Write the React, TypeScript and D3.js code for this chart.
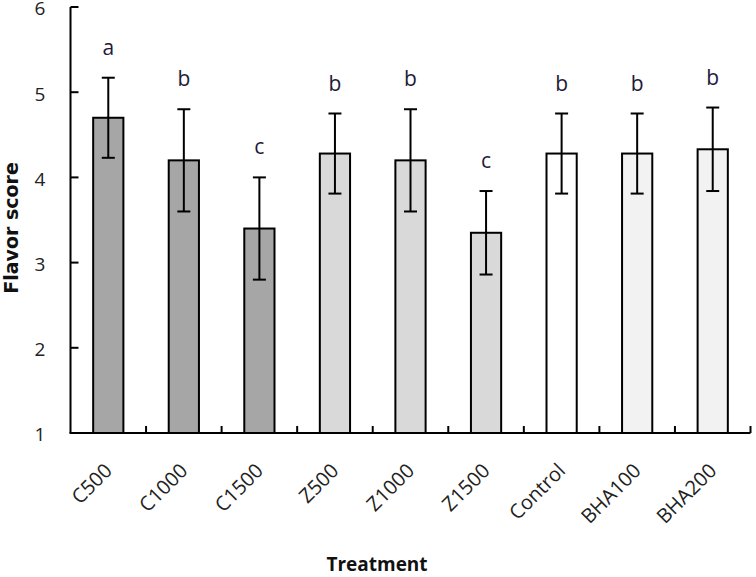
import React from "react";
import * as d3 from "d3";

const categories = ["C500", "C1000", "C1500", "Z500", "Z1000", "Z1500", "Control", "BHA100", "BHA200"];
const means = [4.7, 4.2, 3.4, 4.28, 4.2, 3.35, 4.28, 4.28, 4.33];
const errors = [0.47, 0.6, 0.6, 0.47, 0.6, 0.49, 0.47, 0.47, 0.49];
const letters = ["a", "b", "c", "b", "b", "c", "b", "b", "b"];
const groups = ["C", "C", "C", "Z", "Z", "Z", "Control", "BHA", "BHA"];
const yTicks = [1, 2, 3, 4, 5, 6];

const groupColor: Record<string, string> = {
  C: "#a6a6a6",
  Z: "#d9d9d9",
  Control: "#ffffff",
  BHA: "#f2f2f2",
};

export default function App() {
  const W = 756;
  const H = 577;
  const x0 = 70.5;
  const x1 = 750.5;
  const yBottom = 433;
  const yTop = 7;

  const x = d3.scaleBand<string>().domain(categories).range([x0, x1]).paddingInner(0.6).paddingOuter(0.3);
  const y = d3.scaleLinear().domain([1, 6]).range([yBottom, yTop]);
  const step = x.step();
  const bw = x.bandwidth();
  const capHalf = 6.5;

  const sepTicks = d3.range(1, categories.length + 1).map((k) => x0 + k * step);

  return (
    <svg width={W} height={H} style={{ position: "absolute", left: 0, top: 0, background: "#fff" }}>
      {/* bars */}
      {categories.map((c, i) => (
        <rect
          key={c}
          x={x(c)!}
          y={y(means[i])}
          width={bw}
          height={yBottom - y(means[i])}
          fill={groupColor[groups[i]]}
          stroke="#000"
          strokeWidth={2}
        />
      ))}
      {/* error bars */}
      {categories.map((c, i) => {
        const cx = x(c)! + bw / 2;
        const top = y(means[i] + errors[i]);
        const bot = y(means[i] - errors[i]);
        return (
          <g key={c + "e"} stroke="#000" strokeWidth={2}>
            <line x1={cx} x2={cx} y1={top} y2={bot} />
            <line x1={cx - capHalf} x2={cx + capHalf} y1={top} y2={top} />
            <line x1={cx - capHalf} x2={cx + capHalf} y1={bot} y2={bot} />
          </g>
        );
      })}
      {/* significance letters */}
      {categories.map((c, i) => (
        <text
          key={c + "l"}
          x={x(c)! + bw / 2}
          y={y(means[i] + errors[i]) - 23}
          textAnchor="middle"
          fontFamily="'Open Sans', sans-serif"
          fontSize={21}
          fill="#1e1a3a"
        >
          {letters[i]}
        </text>
      ))}
      {/* y axis */}
      <line x1={x0} x2={x0} y1={yTop} y2={yBottom} stroke="#000" strokeWidth={2} />
      {yTicks.map((t) => (
        <g key={"yt" + t}>
          <line x1={x0} x2={x0 + 8} y1={y(t)} y2={y(t)} stroke="#000" strokeWidth={2} />
          <text
            x={40}
            y={y(t) + 1.5}
            dy="0.36em"
            textAnchor="middle"
            fontFamily="'Open Sans', sans-serif"
            fontSize={19}
            fill="#222"
          >
            {t}
          </text>
        </g>
      ))}
      {/* x axis */}
      <line x1={x0 - 1} x2={x1} y1={yBottom} y2={yBottom} stroke="#000" strokeWidth={2} />
      {sepTicks.map((tx, k) => (
        <line key={"xt" + k} x1={tx} x2={tx} y1={yBottom} y2={yBottom - 7} stroke="#000" strokeWidth={2} />
      ))}
      {categories.map((c) => {
        const cx = x(c)! + bw / 2 + 5;
        const cy = yBottom + 39;
        return (
          <text
            key={c + "t"}
            transform={`translate(${cx},${cy}) rotate(-45)`}
            textAnchor="end"
            fontFamily="'Open Sans', sans-serif"
            fontSize={20}
            fill="#222"
          >
            {c}
          </text>
        );
      })}
      {/* axis titles */}
      <text
        x={377}
        y={571}
        textAnchor="middle"
        fontFamily="'Open Sans', sans-serif"
        fontWeight="bold"
        fontSize={19}
        fill="#111"
      >
        Treatment
      </text>
      <text
        transform={`translate(18,228) rotate(-90)`}
        textAnchor="middle"
        fontFamily="'DejaVu Sans', sans-serif"
        fontWeight="bold"
        fontSize={19}
        fill="#111"
      >
        Flavor score
      </text>
    </svg>
  );
}
